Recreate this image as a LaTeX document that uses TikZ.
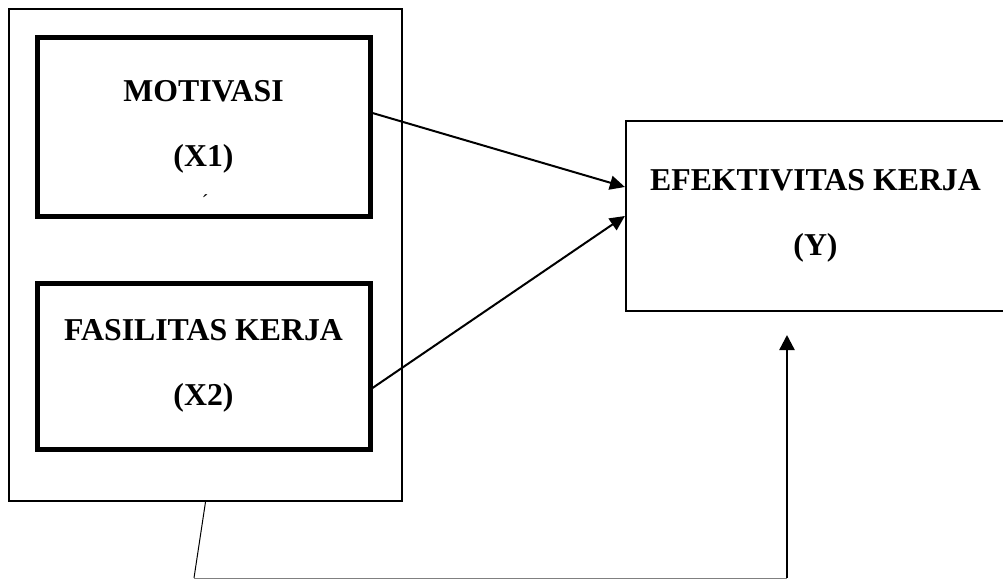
\documentclass[tikz,border=0pt]{standalone}
\usepackage{fontspec}
\setmainfont{Liberation Serif}
\usepackage{tikz}
\usetikzlibrary{
  calc,
  positioning,
  arrows.meta
}

\begin{document}
\begin{tikzpicture}[
    x=0.5pt, y=-0.5pt,
    varbox/.style={
      rectangle, draw=black, line width=2.5pt, inner sep=0pt,
      minimum width=166.5pt, align=center,
      font=\fontsize{15.9}{32.5}\selectfont\bfseries
    },
    groupbox/.style={rectangle, draw=black, line width=1pt, inner sep=0pt},
    resultbox/.style={varbox, line width=1.1pt, minimum width=189.5pt, minimum height=95pt},
    arrow/.style={-{Triangle[length=7.5pt, width=7pt]}, line width=1pt, black}
  ]
    \useasboundingbox (0,0) rectangle (1003,579);

    % independent variables, grouped
    \node[groupbox, minimum width=196.5pt, minimum height=246pt] (grp) at (205.5,255) {};
    \node[varbox, minimum height=89.5pt] (x1) at (203.5,126.5) {MOTIVASI\\(X1)};
    \node[varbox, minimum height=83pt] (x2) at (203.5,366) {FASILITAS KERJA\\(X2)};
    \node[font=\fontsize{10}{10}\selectfont, inner sep=0pt] (tick) at (205,204) {\'{}};

    % dependent variable
    \node[resultbox] (y) at (815.5,216) {EFEKTIVITAS KERJA\\(Y)};

    \draw[arrow] ([yshift=6.75pt]x1.east) -- ([yshift=14.5pt]y.west);
    \draw[arrow] ([yshift=-11pt]x2.east) -- (y.west);

    % simultaneous effect
    \coordinate (low) at (194,578);
    \coordinate (turn) at (787,578);
    \coordinate (tip) at (787,335);
    \draw[line width=0.5pt] (grp.south) -- (low);
    \draw[line width=0.5pt, gray] (low) -- (turn);
    \draw[arrow, line width=1.2pt, -{Triangle[length=7.5pt, width=7.5pt]}] (turn) -- (tip);
\end{tikzpicture}
\end{document}
